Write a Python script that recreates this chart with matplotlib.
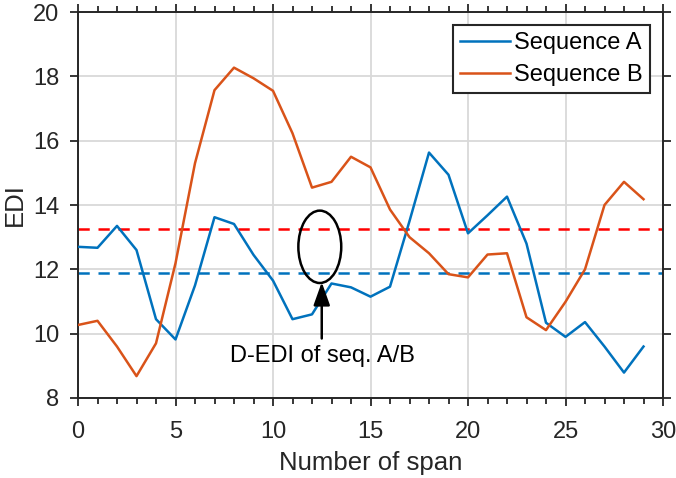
import matplotlib
matplotlib.use("Agg")
import matplotlib.pyplot as plt
from matplotlib.patches import Ellipse
from matplotlib.ticker import MultipleLocator

plt.rcParams['font.family'] = ['Liberation Sans', 'DejaVu Sans']

span = list(range(30))
seq_a = [12.7, 12.67, 13.35, 12.6, 10.45, 9.82, 11.5, 13.62, 13.41, 12.45,
         11.65, 10.45, 10.6, 11.56, 11.44, 11.15, 11.46, 13.5, 15.63, 14.94,
         13.12, 13.68, 14.26, 12.8, 10.34, 9.9, 10.36, 9.6, 8.79, 9.6]
seq_b = [10.27, 10.4, 9.6, 8.68, 9.7, 12.19, 15.3, 17.57, 18.27, 17.94,
         17.55, 16.23, 14.54, 14.72, 15.5, 15.17, 13.86, 13.0, 12.5, 11.85,
         11.75, 12.46, 12.5, 10.51, 10.11, 10.99, 12.0, 14.0, 14.72, 14.18]
d_edi_a = 11.9
d_edi_b = 13.25

blue = '#0072BD'
orange = '#D95319'

fig = plt.figure(figsize=(6.76, 4.78), dpi=100)
ax = fig.add_axes([78/676, 80/478, 585/676, 386/478])

ax.plot(span, seq_a, color=blue, lw=1.8, label='Sequence A', zorder=3)
ax.plot(span, seq_b, color=orange, lw=1.8, label='Sequence B', zorder=3)
ax.axhline(d_edi_b, color='red', ls=(0, (4.5, 3.5)), lw=1.8, zorder=2)
ax.axhline(d_edi_a, color=blue, ls=(0, (4.5, 3.5)), lw=1.8, zorder=2)

ax.add_patch(Ellipse((12.4, 12.7), 2.2, 2.25, fill=False, ec='black', lw=1.8, zorder=4))
ax.annotate('', xy=(12.5, 11.6), xytext=(12.5, 9.85),
            arrowprops=dict(arrowstyle='-|>,head_length=0.7,head_width=0.25', color='black',
                            lw=1.8, mutation_scale=20, shrinkA=0, shrinkB=0), zorder=4)
ax.text(12.55, 9.3, 'D-EDI of seq. A/B', ha='center', va='center', fontsize=17)

ax.set_xlim(0, 30)
ax.set_ylim(8, 20)
ax.xaxis.set_major_locator(MultipleLocator(5))
ax.xaxis.set_minor_locator(MultipleLocator(1))
ax.yaxis.set_major_locator(MultipleLocator(2))
ax.grid(True, which='major', color='#d9d9d9', lw=1.3)
ax.set_axisbelow(True)
ax.tick_params(which='both', direction='out', top=True, right=True, labelsize=17,
               color='#262626', width=1.3, labelcolor='#262626')
ax.tick_params(axis='x', which='major', pad=11)
ax.tick_params(axis='y', which='major', pad=8)
ax.tick_params(which='major', length=5.5)
ax.tick_params(which='minor', length=4)
for s in ax.spines.values():
    s.set_color('#262626')
    s.set_linewidth(1.4)
ax.set_xlabel('Number of span', fontsize=18.5, color='#262626', labelpad=6)
ax.set_ylabel('EDI', fontsize=18.5, color='#262626', labelpad=4)

leg = ax.legend(loc='upper right', fontsize=17, fancybox=False, framealpha=1,
                edgecolor='#262626', handlelength=2.12, borderpad=0.3, labelspacing=0.42,
                handletextpad=0.17, borderaxespad=0, bbox_to_anchor=(0.978, 0.966))
leg.get_frame().set_linewidth(1.5)

fig.savefig('out.png', dpi=100)
